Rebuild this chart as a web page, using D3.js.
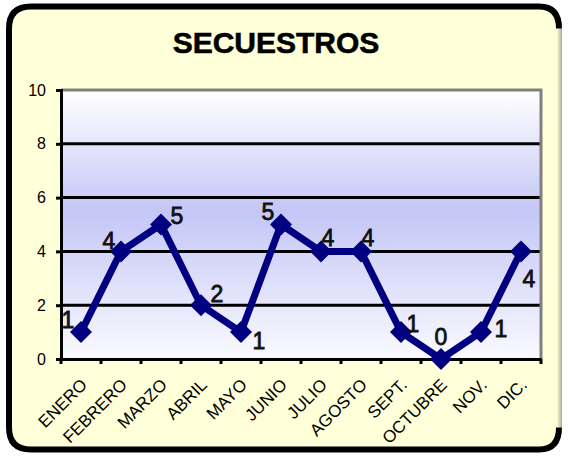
<!DOCTYPE html>
<html><head><meta charset="utf-8">
<script src="https://cdn.jsdelivr.net/npm/d3@7"></script>
<style>html,body{margin:0;padding:0;background:#fff;}svg{display:block;}</style>
</head><body>
<svg id="c" width="568" height="457"></svg>
<script>
const title = "SECUESTROS";
const months = ["ENERO","FEBRERO","MARZO","ABRIL","MAYO","JUNIO","JULIO","AGOSTO","SEPT.","OCTUBRE","NOV.","DIC."];
const values = [1,4,5,2,1,5,4,4,1,0,1,4];
const yTicks = [0,2,4,6,8,10];
// data label offsets (dx, dy) relative to each point
const labelDx = [-13,-12,16,16,18,-13,7,7,12,0,20,8];
const labelDy = [-12,-11,-9,-11,9,-13,-14,-14,-8,-22,-3,27];

const svg = d3.select("#c");
const defs = svg.append("defs");
const g1 = defs.append("linearGradient").attr("id","pg").attr("x1",0).attr("y1",0).attr("x2",0).attr("y2",1);
g1.append("stop").attr("offset","0%").attr("stop-color","#ffffff");
g1.append("stop").attr("offset","45%").attr("stop-color","#c4c6f6");
g1.append("stop").attr("offset","100%").attr("stop-color","#fafaff");
const g2 = defs.append("linearGradient").attr("id","rg").attr("x1",0).attr("y1",0).attr("x2",1).attr("y2",0);
g2.append("stop").attr("offset","0%").attr("stop-color","#ffffd9");
g2.append("stop").attr("offset","100%").attr("stop-color","#a8a890");

// frame
const L=9, T=6.5, R=561, B=449.5, rad=22;
svg.append("rect").attr("x",L).attr("y",T).attr("width",R-L).attr("height",B-T).attr("rx",rad).attr("fill","#ffffd9");
svg.append("rect").attr("x",R-4).attr("y",T+rad).attr("width",5).attr("height",B-T-2*rad).attr("fill","url(#rg)");
svg.append("path")
  .attr("d",`M${R-2},${T+rad} Q${R-2},${T} ${R-rad},${T} L${L+rad},${T} Q${L},${T} ${L},${T+rad} L${L},${B-rad} Q${L},${B} ${L+rad},${B} L${R-rad},${B} Q${R-2},${B} ${R-2},${B-rad}`)
  .attr("fill","none").attr("stroke","#000").attr("stroke-width",6);

svg.append("text").attr("x",276).attr("y",53).attr("text-anchor","middle")
  .attr("font-family","Liberation Sans, Arial, sans-serif").attr("font-weight","bold").attr("font-size",30)
  .attr("fill","#000").attr("stroke","#000").attr("stroke-width",0.6).text(title);

const pl=61, pr=541, pt=90, pb=359;
const x = d3.scaleBand().domain(months).range([pl,pr]).paddingInner(0).paddingOuter(0);
const y = d3.scaleLinear().domain([0,10]).range([pb,pt]);

svg.append("rect").attr("x",pl).attr("y",pt).attr("width",pr-pl).attr("height",pb-pt).attr("fill","url(#pg)");
// gridlines
svg.append("g").selectAll("line").data(yTicks.filter(d=>d>0&&d<10)).join("line")
  .attr("x1",pl).attr("x2",pr).attr("y1",d=>y(d)).attr("y2",d=>y(d))
  .attr("stroke","#000").attr("stroke-width",3);
// gray top/right border
svg.append("path").attr("d",`M${pl},${pt} L${pr},${pt} L${pr},${pb}`).attr("fill","none").attr("stroke","#808080").attr("stroke-width",3);

// y axis
const ya = svg.append("g").attr("transform",`translate(${pl},0)`)
  .call(d3.axisLeft(y).tickValues(yTicks).tickSize(5).tickPadding(10).tickFormat(d3.format("d")));
ya.select(".domain").attr("stroke","#000").attr("stroke-width",3);
ya.selectAll(".tick line").attr("stroke","#000").attr("stroke-width",3);
ya.selectAll(".tick text").attr("font-family","Liberation Sans, Arial, sans-serif").attr("font-size",16).attr("fill","#000");

// x axis
const xa = svg.append("g").attr("transform",`translate(0,${pb})`)
  .call(d3.axisBottom(x).tickSize(0).tickFormat(""));
xa.select(".domain").attr("stroke","#000").attr("stroke-width",3);
const bounds = months.map(m=>x(m)).concat([pr]);
svg.append("g").selectAll("line").data(bounds).join("line")
  .attr("x1",d=>d).attr("x2",d=>d).attr("y1",pb).attr("y2",pb+5).attr("stroke","#000").attr("stroke-width",3);
svg.append("g").selectAll("text").data(months).join("text")
  .attr("transform",d=>`translate(${x(d)+x.bandwidth()/2+7},${pb+27}) rotate(-45)`)
  .attr("text-anchor","end")
  .attr("font-family","Liberation Sans, Arial, sans-serif").attr("font-size",17).attr("fill","#000")
  .text(d=>d);

// line
const cx = (d,i)=>x(months[i])+x.bandwidth()/2;
svg.append("path").datum(values)
  .attr("d",d3.line().x(cx).y(d=>y(d)))
  .attr("fill","none").attr("stroke","#000080").attr("stroke-width",7).attr("stroke-linejoin","miter");
svg.append("g").selectAll("path").data(values).join("path")
  .attr("transform",(d,i)=>`translate(${cx(d,i)},${y(d)})`)
  .attr("d","M0,-11 L11,0 L0,11 L-11,0 Z").attr("fill","#000080");

// labels
svg.append("g").selectAll("text").data(values).join("text")
  .attr("x",(d,i)=>cx(d,i)+labelDx[i]).attr("y",(d,i)=>y(d)+labelDy[i])
  .attr("dy","0.36em").attr("text-anchor","middle")
  .attr("font-family","Liberation Sans, Arial, sans-serif").attr("font-size",23)
  .attr("fill","#111").attr("stroke","#111").attr("stroke-width",0.8)
  .text(d=>d);
</script>
</body></html>
